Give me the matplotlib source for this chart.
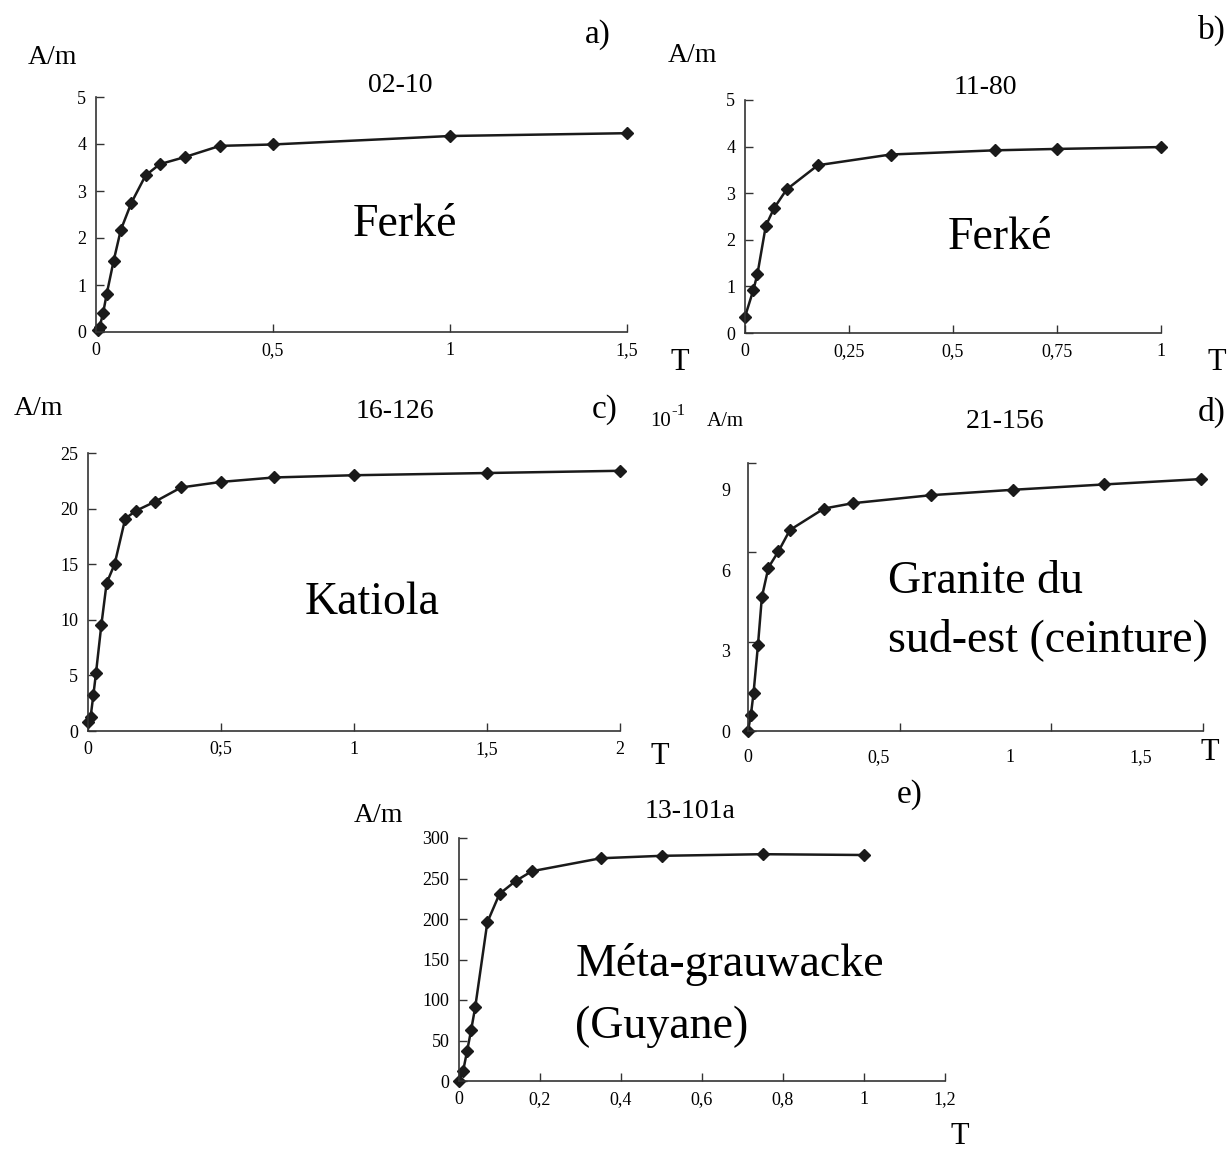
"""Aimantation remanente isotherme - 5 echantillons"""
import matplotlib
matplotlib.use("Agg")
import matplotlib.pyplot as plt

plt.rcParams['font.family'] = ['Liberation Serif', 'DejaVu Serif']

# a) 02-10 Ferke
a_x = [0.005, 0.01, 0.02, 0.03, 0.05, 0.07, 0.1, 0.14, 0.18, 0.25, 0.35, 0.5, 1.0, 1.5]
a_y = [0.05, 0.1, 0.4, 0.8, 1.52, 2.17, 2.75, 3.33, 3.57, 3.72, 3.96, 3.99, 4.17, 4.23]
# b) 11-80 Ferke
b_x = [0, 0.02, 0.03, 0.05, 0.07, 0.1, 0.175, 0.35, 0.6, 0.75, 1.0]
b_y = [0.35, 0.92, 1.27, 2.3, 2.68, 3.08, 3.6, 3.83, 3.92, 3.95, 3.99]
# c) 16-126 Katiola
c_x = [0, 0.01, 0.02, 0.03, 0.05, 0.07, 0.1, 0.14, 0.18, 0.25, 0.35, 0.5, 0.7, 1.0, 1.5, 2.0]
c_y = [0.8, 1.3, 3.2, 5.2, 9.5, 13.3, 15.0, 19.1, 19.8, 20.6, 21.9, 22.4, 22.8, 23.0, 23.2, 23.4]
# d) 21-156 Granite du sud-est (10^-1 A/m)
d_x = [0, 0.011, 0.021, 0.038, 0.053, 0.078, 0.116, 0.16, 0.29, 0.40, 0.70, 1.01, 1.36, 1.73]
d_y = [0, 0.6, 1.4, 3.2, 5.0, 6.1, 6.7, 7.5, 8.3, 8.5, 8.8, 9.0, 9.2, 9.4]
# e) 13-101a Meta-grauwacke
e_x = [0, 0.01, 0.02, 0.03, 0.04, 0.07, 0.1, 0.14, 0.18, 0.35, 0.5, 0.75, 1.0]
e_y = [0, 12, 37, 63, 91, 196, 231, 247, 259, 275, 278, 280, 279]

W, H = 1227, 1152
fig = plt.figure(figsize=(W / 100, H / 100), dpi=100)


def box(left, top, right, bottom):
    return [left / W, 1 - bottom / H, (right - left) / W, (bottom - top) / H]


def txt(x, y, s, size, ha='center', **kw):
    fig.text(x / W, 1 - y / H, s, fontsize=size, ha=ha, va='center', **kw)


def panel(rect, x, y, xlim, ylim, xticks, xlabels, yticks):
    ax = fig.add_axes(rect)
    ax.plot(x, y, color='#1a1a1a', lw=1.8, marker='D', ms=6.5, clip_on=False)
    ax.set_xlim(*xlim)
    ax.set_ylim(*ylim)
    for s in ['top', 'right']:
        ax.spines[s].set_visible(False)
    for s in ['left', 'bottom']:
        ax.spines[s].set_linewidth(1.2)
        ax.spines[s].set_color('#333333')
    ax.tick_params(direction='in', length=6, width=1, labelsize=13, color='#333333', pad=7)
    if xticks is not None:
        ax.set_xticks(xticks, labels=xlabels)
    if yticks is not None:
        ax.set_yticks(yticks, labels=[str(v) for v in yticks])
    return ax


panel(box(96, 97, 627, 332), a_x, a_y, (0, 1.5), (0, 5),
      [0, 0.5, 1, 1.5], ['0', '0,5', '1', '1,5'], [0, 1, 2, 3, 4, 5])
panel(box(745, 100, 1161, 333), b_x, b_y, (0, 1.0), (0, 5),
      [0, 0.25, 0.5, 0.75, 1], ['0', '0,25', '0,5', '0,75', '1'], [0, 1, 2, 3, 4, 5])
panel(box(88, 453, 620, 731), c_x, c_y, (0, 2), (0, 25),
      [0, 0.5, 1, 1.5, 2], ['0', '0;5', '1', '1,5', '2'], [0, 5, 10, 15, 20, 25])

# d) tick marks and tick labels are not aligned in the original
axd = panel(box(748, 463, 1203, 731), d_x, d_y, (0, 1.737), (0, 10), None, None, None)
axd.xaxis.remove_overlapping_locs = False
axd.yaxis.remove_overlapping_locs = False
axd.set_xticks([0, 0.579, 1.158, 1.737], labels=['', '', '', ''])
axd.set_xticks([0, 0.5, 1, 1.5], labels=['0', '0,5', '1', '1,5'], minor=True)
axd.set_yticks([0, 3.33, 6.67, 10], labels=['', '', '', ''])
axd.set_yticks([0, 3, 6, 9], labels=['0', '3', '6', '9'], minor=True)
axd.tick_params(which='minor', length=0, labelsize=13, pad=13)

panel(box(459, 838, 945, 1081), e_x, e_y, (0, 1.2), (0, 300),
      [0, 0.2, 0.4, 0.6, 0.8, 1, 1.2], ['0', '0,2', '0,4', '0,6', '0,8', '1', '1,2'],
      [0, 50, 100, 150, 200, 250, 300])

# panel letters, units, titles
txt(598, 35, 'a)', 24)
txt(1212, 30, 'b)', 24)
txt(605, 410, 'c)', 24)
txt(1212, 412, 'd)', 24)
txt(910, 795, 'e)', 24)

txt(52, 58, 'A/m', 20)
txt(692, 55, 'A/m', 20)
txt(38, 408, 'A/m', 20)
txt(378, 815, 'A/m', 20)
txt(650, 421, '10', 15, ha='left')
txt(671, 411, '-1', 12, ha='left')
txt(707, 421, 'A/m', 15, ha='left')

txt(400, 85, '02-10', 20)
txt(985, 87, '11-80', 20)
txt(395, 412, '16-126', 20)
txt(1005, 422, '21-156', 20)
txt(690, 812, '13-101a', 20)

txt(680, 362, 'T', 22)
txt(1217, 362, 'T', 22)
txt(660, 757, 'T', 22)
txt(1210, 752, 'T', 22)
txt(960, 1136, 'T', 22)

txt(405, 225, 'Ferké', 33)
txt(1000, 238, 'Ferké', 33)
txt(372, 603, 'Katiola', 33)
txt(888, 582, 'Granite du', 33, ha='left')
txt(888, 640, 'sud-est (ceinture)', 33, ha='left')
txt(730, 965, 'Méta-grauwacke', 33)
txt(662, 1027, '(Guyane)', 33)

fig.savefig('out.png', dpi=100)
